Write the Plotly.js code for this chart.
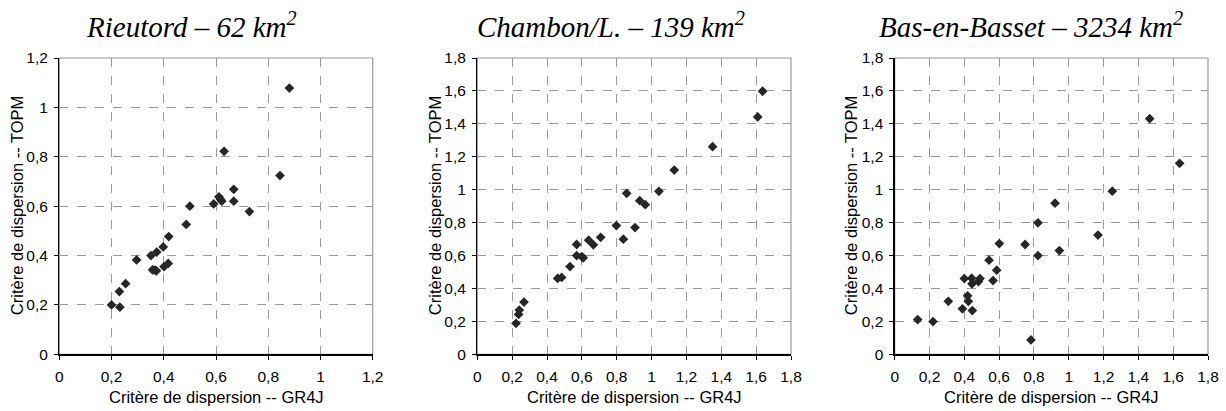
<!DOCTYPE html>
<html><head><meta charset="utf-8">
<script src="https://cdn.plot.ly/plotly-3.0.1.min.js"></script>
<style>html,body{margin:0;padding:0;background:#fff;}#chart{width:1226px;height:411px;}</style>
</head><body><div id="chart"></div>
<script>
// Panel titles
const panelTitles = ["<i>Rieutord – 62 km<sup>2</sup></i>", "<i>Chambon/L. – 139 km<sup>2</sup></i>", "<i>Bas-en-Basset – 3234 km<sup>2</sup></i>"];
const xTitle = "Critère de dispersion -- GR4J";
const yTitle = "Critère de dispersion -- TOPM";

// Rieutord
const rieutordX = [0.200,0.230,0.232,0.254,0.296,0.351,0.357,0.373,0.366,0.372,0.398,0.401,0.417,0.419,0.486,0.500,0.591,0.611,0.617,0.622,0.631,0.668,0.668,0.728,0.845,0.881];
const rieutordY = [0.200,0.254,0.191,0.286,0.382,0.400,0.342,0.414,0.341,0.338,0.435,0.355,0.368,0.477,0.526,0.600,0.609,0.638,0.628,0.620,0.822,0.668,0.620,0.578,0.724,1.078];

// Chambon/L.
const chambonX = [0.222,0.237,0.241,0.268,0.461,0.484,0.532,0.570,0.570,0.599,0.608,0.639,0.666,0.708,0.798,0.838,0.857,0.905,0.932,0.964,1.042,1.130,1.350,1.609,1.637];
const chambonY = [0.188,0.242,0.269,0.317,0.461,0.467,0.533,0.667,0.600,0.594,0.586,0.693,0.665,0.711,0.782,0.699,0.978,0.770,0.933,0.909,0.990,1.119,1.261,1.442,1.598];

// Bas-en-Basset
const basX = [0.132,0.220,0.308,0.389,0.400,0.419,0.423,0.442,0.444,0.446,0.481,0.490,0.542,0.565,0.586,0.601,0.749,0.783,0.823,0.823,0.921,0.946,1.168,1.250,1.465,1.637];
const basY = [0.211,0.199,0.322,0.276,0.460,0.355,0.322,0.462,0.428,0.266,0.442,0.460,0.572,0.448,0.511,0.673,0.667,0.087,0.799,0.600,0.918,0.630,0.724,0.991,1.431,1.160];

const axisMax = [1.2, 1.8, 1.8];

const W = 1226, H = 411;
const plots = [[59.3,372.7],[477.3,791],[894.7,1208]];
const yTop = 58, yBot = 354.3;
const yTitleX = [17, 435, 851];
const titleX = [192, 611, 1031];

const series = [[rieutordX, rieutordY],[chambonX, chambonY],[basX, basY]];
const data = [];
const layout = {
  width: W, height: H, margin:{l:0,r:0,t:0,b:0},
  paper_bgcolor:'#fff', plot_bgcolor:'#fff',
  showlegend:false, separators:', ',
  font:{family:'Liberation Sans, Arial, sans-serif', size:13, color:'#000'},
  annotations:[], shapes:[]
};
series.forEach((s,i)=>{
  const n = i===0 ? '' : String(i+1);
  data.push({type:'scatter', mode:'markers', x:s[0], y:s[1], xaxis:'x'+n, yaxis:'y'+n,
    marker:{symbol:'diamond', size:7.5, color:'#262626'}, cliponaxis:false});
  const common = {
    range:[0, axisMax[i]], dtick:0.2, tick0:0, showgrid:true, gridcolor:'#9a9a9a', griddash:'dash', gridwidth:1,
    zeroline:false, showline:true, linecolor:'#000', linewidth:1.3, ticks:'outside', ticklen:4, tickcolor:'#000',
    tickfont:{family:'Liberation Sans, Arial, sans-serif', size:15.5, color:'#000'}, fixedrange:true
  };
  layout['xaxis'+n] = Object.assign({}, common, {domain:[plots[i][0]/W, plots[i][1]/W], anchor:'y'+n, ticklabelstandoff:4});
  layout['yaxis'+n] = Object.assign({}, common, {domain:[1-yBot/H, 1-yTop/H], anchor:'x'+n, ticklabelstandoff:3});
  layout.shapes.push({type:'rect', xref:'x'+n+' domain', yref:'y'+n+' domain', x0:0, x1:1, y0:0, y1:1,
    line:{color:'#999', width:1.2}, layer:'below'});
  layout.annotations.push({text:panelTitles[i], xref:'paper', yref:'paper', x:titleX[i]/W, y:1-25/H,
    xanchor:'center', yanchor:'middle', showarrow:false,
    font:{family:'Liberation Serif, Times New Roman, serif', size:29, color:'#000'}});
  layout.annotations.push({text:xTitle, xref:'paper', yref:'paper', x:(plots[i][0]+plots[i][1])/2/W, y:1-397/H,
    xanchor:'center', yanchor:'middle', showarrow:false, font:{size:16.5}});
  layout.annotations.push({text:yTitle, xref:'paper', yref:'paper', x:yTitleX[i]/W, y:1-(yTop+yBot)/2/H,
    xanchor:'center', yanchor:'middle', showarrow:false, textangle:-90, font:{size:16.5}});
});
Plotly.newPlot('chart', data, layout, {staticPlot:true});
</script></body></html>
